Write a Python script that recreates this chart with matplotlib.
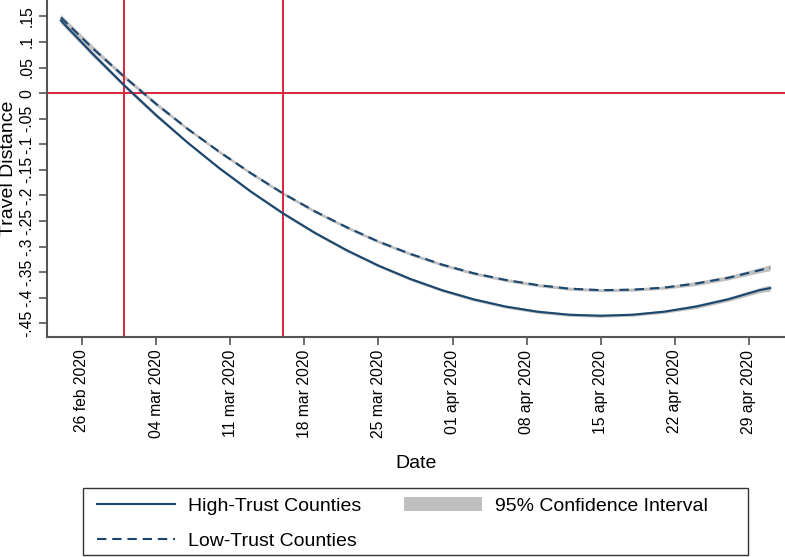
"""
Fitted travel distance for high- and low-trust counties, Feb-May 2020.
"""

import datetime
import matplotlib
matplotlib.use("Agg")
import matplotlib.dates as mdates
import matplotlib.pyplot as plt
from matplotlib.lines import Line2D
from matplotlib.patches import Patch, Rectangle

plt.rcParams['font.family'] = ['Liberation Sans', 'DejaVu Sans']

# fitted values, read every 3 days starting 24 feb 2020 (last one is 01 may)
day_offsets = [0, 3, 6, 9, 12, 15, 18, 21, 24, 27, 30, 33, 36, 39, 42, 45,
               48, 51, 54, 57, 60, 63, 66, 67]
high_trust = [0.142, 0.077, 0.015, -0.043, -0.097, -0.147, -0.193, -0.235,
              -0.273, -0.307, -0.337, -0.363, -0.385, -0.403, -0.417, -0.427,
              -0.433, -0.435, -0.433, -0.427, -0.417, -0.403, -0.385, -0.381]
low_trust = [0.148, 0.088, 0.032, -0.021, -0.070, -0.115, -0.157, -0.196,
             -0.231, -0.262, -0.290, -0.314, -0.335, -0.352, -0.365, -0.375,
             -0.382, -0.385, -0.384, -0.380, -0.372, -0.361, -0.346, -0.341]
# half width of the 95% confidence band
ci_half = [0.006, 0.005, 0.004, 0.004, 0.003, 0.003, 0.003, 0.003, 0.003,
           0.003, 0.003, 0.003, 0.003, 0.003, 0.003, 0.003, 0.003, 0.003,
           0.003, 0.003, 0.004, 0.004, 0.005, 0.006]

event_dates = ["2020-03-01", "2020-03-16"]
tick_dates = ["2020-02-26", "2020-03-04", "2020-03-11", "2020-03-18",
              "2020-03-25", "2020-04-01", "2020-04-08", "2020-04-15",
              "2020-04-22", "2020-04-29"]
tick_labels = ["26 feb 2020", "04 mar 2020", "11 mar 2020", "18 mar 2020",
               "25 mar 2020", "01 apr 2020", "08 apr 2020", "15 apr 2020",
               "22 apr 2020", "29 apr 2020"]
y_ticks = [0.15, 0.1, 0.05, 0, -0.05, -0.1, -0.15, -0.2, -0.25, -0.3, -0.35,
           -0.4, -0.45]
y_labels = [".15", ".1", ".05", "0", "-.05", "-.1", "-.15", "-.2", "-.25",
            "-.3", "-.35", "-.4", "-.45"]

NAVY = '#1a476f'
RED = '#d7263d'
GRAY = '#c0c0c0'
AXIS = '#555555'

W, H = 785, 557


def to_date(s):
    return datetime.datetime.strptime(s, "%Y-%m-%d")


start = datetime.datetime(2020, 2, 24)
dates = [start + datetime.timedelta(days=d) for d in day_offsets]

fig = plt.figure(figsize=(W / 100, H / 100), dpi=100)
ax = fig.add_axes([47 / W, 1 - 337 / H, 1 - 47 / W, 337 / H])

for series in (high_trust, low_trust):
    lo = [v - c for v, c in zip(series, ci_half)]
    hi = [v + c for v, c in zip(series, ci_half)]
    ax.fill_between(dates, lo, hi, color=GRAY, lw=0, zorder=1)

ax.plot(dates, high_trust, color=NAVY, lw=1.5, zorder=3)
ax.plot(dates, low_trust, color=NAVY, lw=1.5, dashes=(4.5, 2.8), zorder=3)

ax.axhline(0, color=RED, lw=1.4, zorder=2)
for d in event_dates:
    ax.axvline(to_date(d), color=RED, lw=1.4, zorder=2)

x0 = mdates.date2num(to_date("2020-02-26"))
ax.set_xlim(x0 - 3.3, x0 + 66.4)
ax.set_ylim(-0.4765, 0.182)

ax.set_xticks([to_date(d) for d in tick_dates])
ax.set_xticklabels(tick_labels, rotation=90, fontsize=11.3)
ax.set_yticks(y_ticks)
ax.set_yticklabels(y_labels, rotation=90, va='center', fontsize=11.3)
ax.tick_params(length=6, width=1.2, color=AXIS, pad=3)

for side in ('top', 'right'):
    ax.spines[side].set_visible(False)
for side in ('left', 'bottom'):
    ax.spines[side].set_color(AXIS)
    ax.spines[side].set_linewidth(1.5)

fig.text(9 / W, 1 - 168 / H, "Travel Distance", rotation=90,
         ha='center', va='center', fontsize=14)
fig.text(416 / W, 1 - 463 / H, "Date", ha='center', va='center', fontsize=14)

handles = [Line2D([], [], color=NAVY, lw=1.5),
           Line2D([], [], color=NAVY, lw=1.5, dashes=(4.5, 2.8)),
           Patch(facecolor=GRAY, edgecolor='none')]
labels = ["High-Trust Counties", "Low-Trust Counties",
          "95% Confidence Interval"]
fig.legend(handles, labels, loc='upper left',
           bbox_to_anchor=(97 / W, 1 - 497 / H), ncol=2, frameon=False,
           fontsize=14, borderpad=0, borderaxespad=0, handlelength=4.0,
           handletextpad=0.67, columnspacing=2.2, labelspacing=0.9)
fig.add_artist(Rectangle((83 / W, 1 - 555 / H), (748 - 83) / W,
                         (555 - 488) / H, transform=fig.transFigure,
                         fill=False, ec='#333333', lw=1))

fig.savefig("out.png", dpi=100, facecolor='white')
